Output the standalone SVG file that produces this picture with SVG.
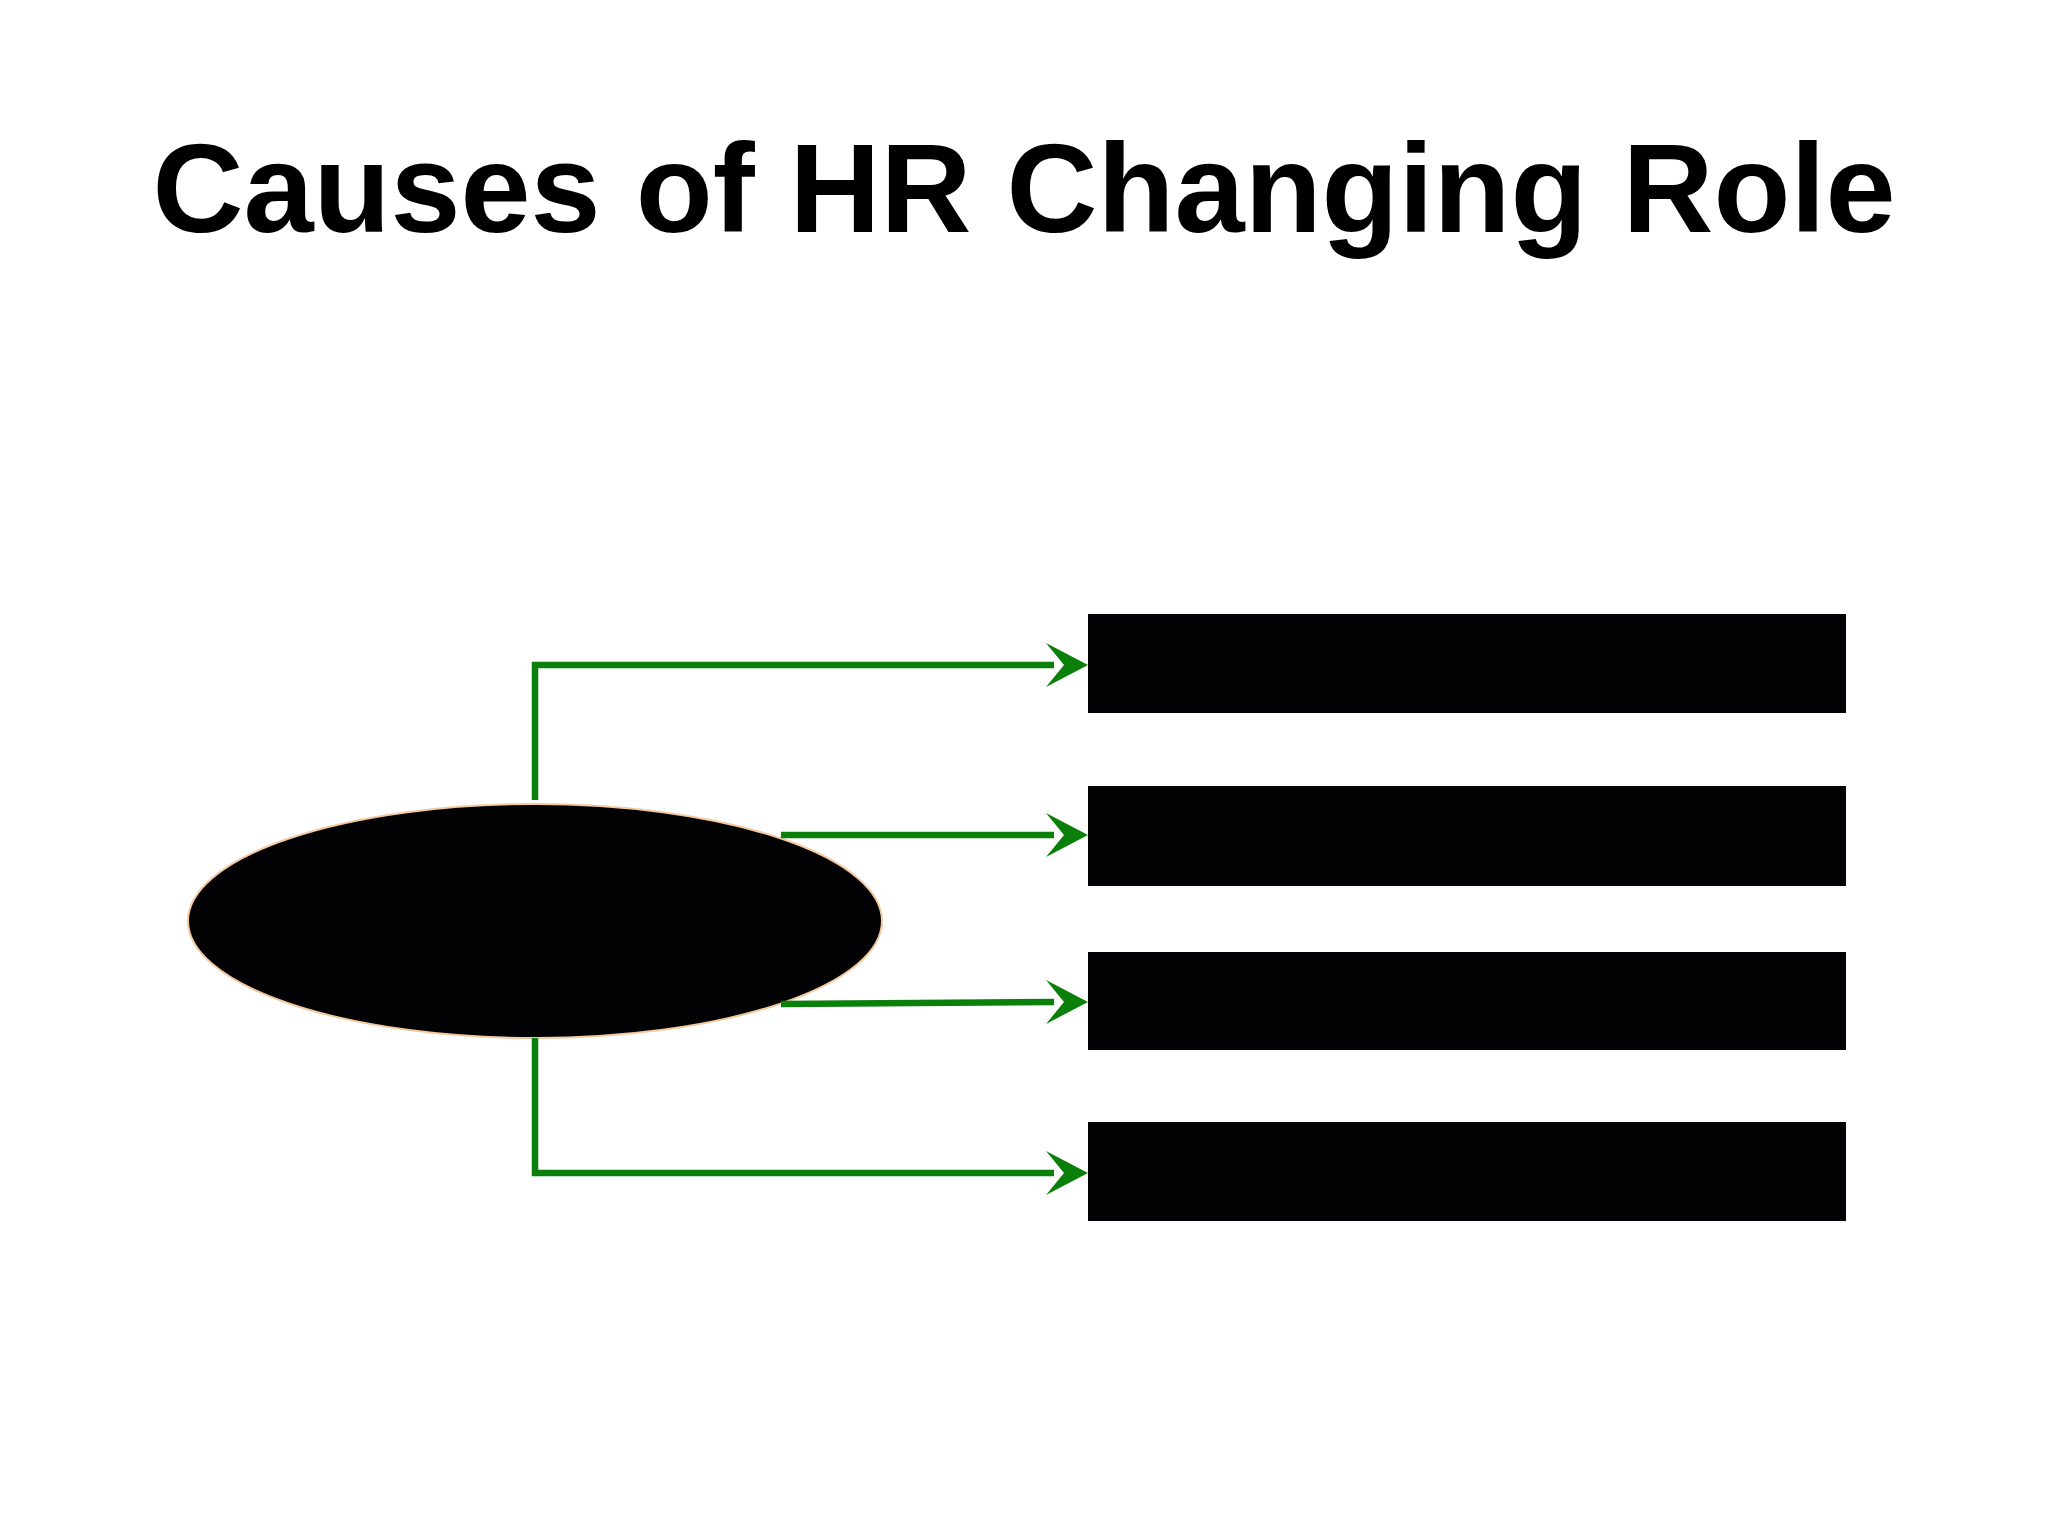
<svg xmlns="http://www.w3.org/2000/svg" width="2048" height="1536" viewBox="0 0 2048 1536">
<style>
.c{fill:none;stroke:#0a800a;stroke-width:6.5}
.b{fill:#020104}
.h{fill:#0a800a}
</style>
<defs>
<path id="ah" d="M0,0 L-42,-22 L-24,0 L-42,22 Z"/>
</defs>
<rect width="2048" height="1536" fill="#fff"/>
<text x="1024" y="232" text-anchor="middle" font-family="Liberation Sans, Arial, sans-serif" font-weight="bold" font-size="126" fill="#000">Causes of HR Changing Role</text>
<g id="center"><ellipse cx="535" cy="921" rx="347" ry="117" fill="#020104" stroke="#f3c9a0" stroke-width="2"/></g>
<g id="box1"><rect class="b" x="1088" y="614" width="758" height="99"/></g>
<g id="box2"><rect class="b" x="1088" y="786" width="758" height="100"/></g>
<g id="box3"><rect class="b" x="1088" y="952" width="758" height="98"/></g>
<g id="box4"><rect class="b" x="1088" y="1122" width="758" height="99"/></g>
<g id="connectors">
<path class="c" d="M535,800 V665 H1054"/>
<path class="c" d="M781,835 L1054,835"/>
<path class="c" d="M781,1004 L1054,1002"/>
<path class="c" d="M535,1038 V1173 H1054"/>
<use href="#ah" class="h" x="1088" y="665"/>
<use href="#ah" class="h" x="1088" y="835"/>
<use href="#ah" class="h" x="1088" y="1002"/>
<use href="#ah" class="h" x="1088" y="1173"/>
</g>
</svg>
